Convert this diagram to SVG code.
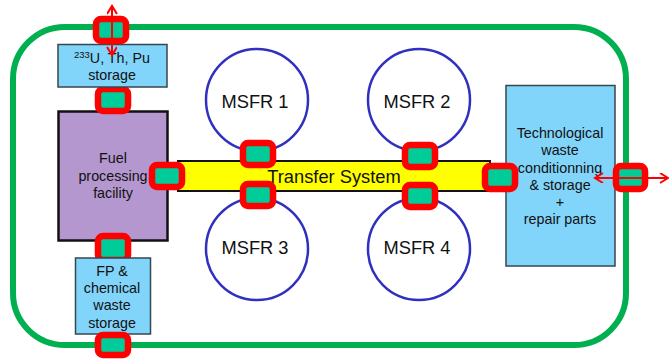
<svg xmlns="http://www.w3.org/2000/svg" width="669" height="359" viewBox="0 0 669 359">
<defs>
<marker id="ah" markerWidth="12" markerHeight="12" refX="9" refY="5" orient="auto-start-reverse" markerUnits="userSpaceOnUse"><path d="M1 0L9 5L1 10" fill="none" stroke="#ff0000" stroke-width="2"/></marker>
</defs>
<style>
text{font-family:"Liberation Sans",Arial,sans-serif;fill:#111;text-anchor:middle}
.box{fill:#81d4fa;stroke:#37474f;stroke-width:1.5}
.t{font-size:14.300px}
.m{font-size:18.300px}
.c{fill:#fff;stroke:#3030c0;stroke-width:2.500}
.p{fill:#00cc99;stroke:#ff0000;stroke-width:6.500}
.a{fill:none;stroke:#ff0000;stroke-width:2;marker-start:url(#ah);marker-end:url(#ah)}
</style>
<rect id="boundary" x="13" y="27" width="613" height="318" rx="52" fill="#fff" stroke="#00b050" stroke-width="6"/>
<g id="msfr1"><circle class="c" cx="257" cy="100" r="51"/><text class="m" x="255" y="108">MSFR 1</text></g>
<g id="msfr2"><circle class="c" cx="419" cy="100" r="51"/><text class="m" x="417" y="108">MSFR 2</text></g>
<g id="msfr3"><circle class="c" cx="257" cy="249" r="51"/><text class="m" x="255" y="254">MSFR 3</text></g>
<g id="msfr4"><circle class="c" cx="419" cy="249" r="51"/><text class="m" x="417" y="254">MSFR 4</text></g>
<g id="transfer"><rect x="178" y="161" width="312" height="30" fill="#ffff00" stroke="#111" stroke-width="2"/><text x="334" y="183" font-size="18.300">Transfer System</text></g>
<g id="fuel"><rect x="58.500" y="111.500" width="109" height="129" fill="#b497cf" stroke="#111" stroke-width="2.500"/><text class="t" x="113" y="163">Fuel</text><text class="t" x="113" y="181">processing</text><text class="t" x="113" y="198">facility</text></g>
<g id="port-fuel-top"><rect class="p" x="98" y="89" width="30" height="22" rx="5"/></g>
<g id="port-fuel-bottom"><rect class="p" x="98" y="236" width="30" height="24" rx="5"/></g>
<g id="u-storage"><rect class="box" x="58" y="44.500" width="109" height="42.500"/><text class="t" x="112" y="63"><tspan font-size="9.500" dy="-5">233</tspan><tspan dy="5">U, Th, Pu</tspan></text><text class="t" x="112" y="80">storage</text></g>
<g id="fp-storage"><rect class="box" x="75.500" y="258" width="75" height="76"/><text class="t" x="112" y="276">FP &amp;</text><text class="t" x="112" y="293">chemical</text><text class="t" x="112" y="310">waste</text><text class="t" x="112" y="328">storage</text></g>
<g id="tech"><rect class="box" x="506" y="85.500" width="109" height="180.500"/><text class="t" x="560" y="138">Technological</text><text class="t" x="560" y="155">waste</text><text class="t" x="560" y="173">conditionning</text><text class="t" x="560" y="190">&amp; storage</text><text class="t" x="560" y="207">+</text><text class="t" x="560" y="224">repair parts</text></g>
<g id="ports">
<rect id="port-top" class="p" x="96" y="19" width="30" height="22" rx="5"/>
<rect id="port-bottom" class="p" x="98" y="335" width="30" height="20" rx="5"/>
<rect id="port-msfr1" class="p" x="243" y="143" width="30" height="22" rx="5"/>
<rect id="port-msfr3" class="p" x="243" y="184" width="30" height="22" rx="5"/>
<rect id="port-msfr2" class="p" x="405" y="145" width="30" height="22" rx="5"/>
<rect id="port-msfr4" class="p" x="405" y="185" width="30" height="22" rx="5"/>
<rect id="port-fuel" class="p" x="152" y="165" width="30" height="22" rx="5"/>
<rect id="port-tech" class="p" x="485" y="166" width="30" height="23" rx="5"/>
<rect id="port-right" class="p" x="616" y="166" width="29" height="23" rx="5"/>
</g>
<g id="connectors">
<line class="a" x1="112" y1="6" x2="112" y2="55"/>
<line class="a" x1="595" y1="178" x2="668" y2="178"/>
</g>
</svg>
